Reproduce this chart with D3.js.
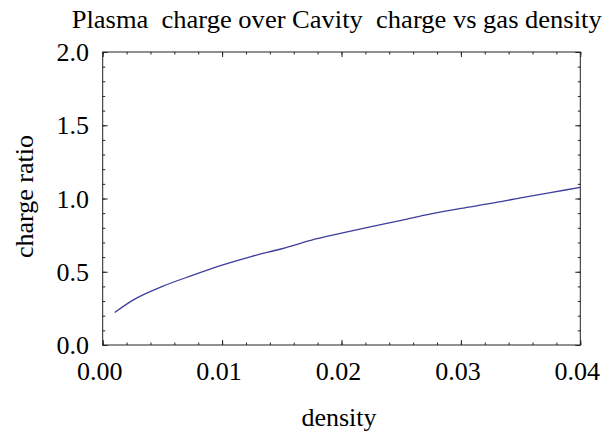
<!DOCTYPE html>
<html>
<head>
<meta charset="utf-8">
<script src="https://cdn.jsdelivr.net/npm/d3@7"></script>
</head>
<body style="margin:0">
<svg id="chart" width="614" height="439" style="font-family:'Liberation Serif'"></svg>
<script>
const density = [0.001, 0.0025, 0.005, 0.0075, 0.01, 0.0125, 0.015, 0.0175, 0.02, 0.0225, 0.025, 0.0275, 0.03, 0.0325, 0.035, 0.0375, 0.04];
const chargeRatio = [0.222, 0.305, 0.40, 0.475, 0.545, 0.605, 0.657, 0.716, 0.763, 0.808, 0.851, 0.895, 0.932, 0.966, 1.004, 1.040, 1.076];
const xTicks = [0.00, 0.01, 0.02, 0.03, 0.04];
const xTickLabels = ["0.00", "0.01", "0.02", "0.03", "0.04"];
const yTicks = [0.0, 0.5, 1.0, 1.5, 2.0];
const yTickLabels = ["0.0", "0.5", "1.0", "1.5", "2.0"];
const xMinor = d3.range(0, 21).map(i => i * 0.002);
const yMinor = d3.range(0, 21).map(i => i * 0.1);
const titleText = "Plasma  charge over Cavity  charge vs gas density";
const xLabel = "density";
const yLabel = "charge ratio";

const svg = d3.select("#chart");
const L = 102.7, R = 580.3, T = 52, B = 345;
const x = d3.scaleLinear().domain([0, 0.04]).range([L, R]);
const y = d3.scaleLinear().domain([0, 2]).range([B, T]);

const axisColor = "#222";
function styleAxis(g) {
  g.select(".domain").remove();
  g.selectAll("line").attr("stroke", axisColor).attr("stroke-width", 1);
  g.selectAll("text").remove();
}
function ticks(axisFn, scale, vals, size, tx, ty) {
  svg.append("g").attr("transform", `translate(${tx},${ty})`)
    .call(axisFn(scale).tickValues(vals).tickSize(size).tickFormat(""))
    .call(styleAxis);
}
ticks(d3.axisBottom, x, xMinor, -2.5, 0, B);
ticks(d3.axisTop, x, xMinor, -2.5, 0, T);
ticks(d3.axisLeft, y, yMinor, -2.5, L, 0);
ticks(d3.axisRight, y, yMinor, -2.5, R, 0);
ticks(d3.axisBottom, x, xTicks, -5, 0, B);
ticks(d3.axisTop, x, xTicks, -5, 0, T);
ticks(d3.axisLeft, y, yTicks, -5, L, 0);
ticks(d3.axisRight, y, yTicks, -5, R, 0);

svg.append("rect").attr("x", L).attr("y", T).attr("width", R - L).attr("height", B - T)
  .attr("fill", "none").attr("stroke", axisColor).attr("stroke-width", 1);

svg.append("g").selectAll("text").data(xTicks).join("text")
  .attr("x", d => x(d) - 3).attr("y", 380)
  .attr("text-anchor", "middle").style("font-size", "26px").style("font-family", "Liberation Serif")
  .text((d, i) => xTickLabels[i]);
svg.append("g").selectAll("text").data(yTicks).join("text")
  .attr("x", 89).attr("y", d => y(d)).attr("dy", "0.35em")
  .attr("text-anchor", "end").style("font-size", "26px").style("font-family", "Liberation Serif")
  .text((d, i) => yTickLabels[i]);

svg.append("path").datum(density.map((d, i) => [d, chargeRatio[i]]))
  .attr("fill", "none").attr("stroke", "#3d3d9c").attr("stroke-width", 1.3)
  .attr("d", d3.line().x(d => x(d[0])).y(d => y(d[1])).curve(d3.curveMonotoneX));

svg.append("text").attr("x", 71.7).attr("y", 28)
  .style("font-size", "26px").style("font-family", "Liberation Serif").style("white-space", "pre")
  .attr("textLength", 530).attr("lengthAdjust", "spacingAndGlyphs")
  .text(titleText);
svg.append("text").attr("x", 339).attr("y", 426).attr("text-anchor", "middle")
  .style("font-size", "26px").style("font-family", "Liberation Serif")
  .text(xLabel);
svg.append("text").attr("transform", "translate(33,196.5) rotate(-90)").attr("text-anchor", "middle")
  .style("font-size", "26px").style("font-family", "Liberation Serif")
  .text(yLabel);
</script>
</body>
</html>
